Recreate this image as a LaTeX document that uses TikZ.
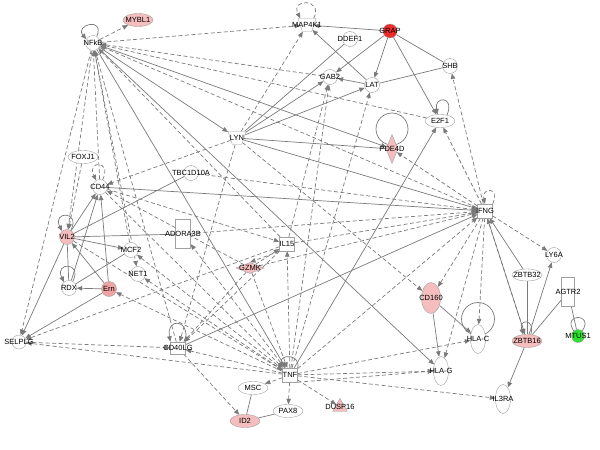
\documentclass[tikz,border=0pt]{standalone}
\usepackage{fontspec}
\setmainfont{Liberation Sans}
\usepackage{xcolor}
\definecolor{Wire}{HTML}{7A7A7A}
\definecolor{Rim}{HTML}{A0A0A0}
\definecolor{Blush}{HTML}{F5BDBD}
\definecolor{Rose}{HTML}{EFA2A2}
\definecolor{Signal}{HTML}{EE2A2A}
\definecolor{Leaf}{HTML}{2EE02E}
\usetikzlibrary{shapes.geometric,arrows.meta,backgrounds}

\begin{document}
\begin{tikzpicture}[x=1pt,y=-1pt,font=\fontsize{7.5}{8}\selectfont,
 g/.style={circle,draw=Rim,fill=white,minimum size=15pt,inner sep=0pt},
 ov/.style={ellipse,draw=Rim,fill=white,minimum width=30pt,minimum height=13pt,inner sep=0pt},
 tall/.style={ellipse,draw=Rim,fill=white,minimum width=15pt,minimum height=29pt,inner sep=0pt},
 sq/.style={rectangle,draw=Rim,fill=white,minimum width=15pt,minimum height=14pt,inner sep=0pt},
 bar/.style={rectangle,draw=Rim,fill=white,minimum width=15pt,minimum height=29pt,inner sep=0pt},
 kin/.style={trapezium,shape border rotate=180,trapezium stretches=true,trapezium left angle=65,trapezium right angle=65,draw=Rim,fill=white,minimum width=18pt,minimum height=13pt,inner sep=1pt},
 dia/.style={diamond,draw=Rim,fill=Blush,inner sep=0.5pt},
 tri/.style={regular polygon,regular polygon sides=3,draw=Rim,fill=Blush,minimum size=17pt,inner sep=0.5pt},
 act/.style={draw=Wire,line width=0.7pt,-{Triangle[length=5.5pt,width=4.5pt]}},
 bond/.style={draw=Wire,line width=0.7pt},
 ind/.style={act,dash pattern=on 4pt off 2.5pt}]
\useasboundingbox (0,0) rectangle (600,450);

% molecules
\node[g,label=center:NFkB] (NFkB) at (93,43) {};
\node[ov,fill=Blush,label=center:MYBL1] (MYBL1) at (138,20) {};
\node[kin,label=center:MAP4K1] (MAP4K1) at (307,25) {};
\node[g,label=center:DDEF1] (DDEF1) at (350,39) {};
\node[g,fill=Signal,minimum size=14pt,label=center:GRAP] (GRAP) at (390,31) {};
\node[g,label=center:SHB] (SHB) at (450,66) {};
\node[g,label=center:GAB2] (GAB2) at (330,77) {};
\node[g,label=center:LAT] (LAT) at (372,85) {};
\node[ov,label=center:E2F1] (E2F1) at (440,121) {};
\node[kin,label=center:LYN] (LYN) at (237,138) {};
\node[dia,minimum width=12pt,minimum height=29pt,label=center:PDE4D] (PDE4D) at (392,149) {};
\node[ov,label=center:FOXJ1] (FOXJ1) at (83,157) {};
\node[g,label=center:CD44] (CD44) at (100,187) {};
\node[g,label=center:TBC1D10A] (TBC1D10A) at (191,173) {};
\node[sq,label=center:IFNG] (IFNG) at (485,211) {};
\node[bar,label=center:ADORA3B] (ADORA3B) at (183,234) {};
\node[g,fill=Blush,label=center:VIL2] (VIL2) at (67,237) {};
\node[g,label=center:MCF2] (MCF2) at (131,250) {};
\node[sq,label=center:IL15] (IL15) at (287,244) {};
\node[g,label=center:LY6A] (LY6A) at (554,255) {};
\node[ov,minimum height=12pt,label=center:ZBTB32] (ZBTB32) at (527,275) {};
\node[g,label=center:NET1] (NET1) at (138,274) {};
\node[dia,minimum width=28pt,minimum height=11pt,label=center:GZMK] (GZMK) at (250,268) {};
\node[bar,minimum width=13pt,label=center:AGTR2] (AGTR2) at (568,292) {};
\node[g,label=center:RDX] (RDX) at (69,288) {};
\node[g,fill=Rose,label=center:Ern] (Ern) at (109,289) {};
\node[tall,fill=Blush,minimum width=19pt,minimum height=31pt,label=center:CD160] (CD160) at (431,298) {};
\node[g,minimum size=14pt,label=center:SELPLG] (SELPLG) at (19,342) {};
\node[sq,minimum height=12pt,label=center:CD40LG] (CD40LG) at (178,348) {};
\node[tall,label=center:HLA-C] (HLAC) at (478,339) {};
\node[ov,fill=Blush,label=center:ZBTB16] (ZBTB16) at (527,341) {};
\node[g,fill=Leaf,minimum size=13pt,label=center:MTUS1] (MTUS1) at (578,336) {};
\node[tall,label=center:HLA-G] (HLAG) at (441,371) {};
\node[sq,label=center:TNF] (TNF) at (290,375) {};
\node[ov,label=center:MSC] (MSC) at (253,388) {};
\node[tri,label=center:DUSP16] (DUSP16) at (340,407) {};
\node[ov,label=center:PAX8] (PAX8) at (288,411) {};
\node[ov,fill=Blush,label=center:ID2] (ID2) at (245,421) {};
\node[tall,label=center:IL3RA] (IL3RA) at (503,399) {};

\begin{pgfonlayer}{background}
% direct links
\foreach \src/\dst in {GRAP/MAP4K1, LAT/MAP4K1, GRAP/GAB2, GRAP/LAT, GRAP/E2F1,
  LAT/GAB2, LYN/GAB2, LYN/LAT, TNF/E2F1, NFkB/LYN, NFkB/PDE4D, NFkB/TNF,
  NFkB/HLAG, Ern/VIL2, Ern/RDX, Ern/CD44, RDX/CD44, VIL2/CD44, VIL2/MCF2,
  ZBTB16/LY6A, ZBTB16/IL3RA, CD160/HLAC, CD160/HLAG, CD44/IFNG, LYN/IFNG,
  CD40LG/IFNG, VIL2/SELPLG, Ern/SELPLG, ZBTB32/IFNG, ZBTB16/IFNG}
  \draw[act] (\src) -- (\dst);
\foreach \src/\dst in {GRAP/SHB, LAT/SHB, DDEF1/LYN, RDX/VIL2, RDX/MCF2,
  VIL2/ADORA3B, ZBTB32/ZBTB16, AGTR2/ZBTB16, AGTR2/MTUS1, MSC/ID2,
  ID2/PAX8, LYN/PDE4D, TBC1D10A/VIL2}
  \draw[bond] (\src) -- (\dst);
% indirect links
\foreach \src/\dst in {NFkB/MYBL1, NFkB/MAP4K1, GAB2/NFkB, E2F1/NFkB,
  NFkB/SELPLG, NFkB/VIL2, CD44/NFkB, MCF2/NFkB, CD40LG/NFkB, IL15/NFkB,
  NFkB/NET1, IFNG/NFkB, LYN/MAP4K1, LYN/CD44, LYN/CD40LG, LYN/CD160,
  IL15/GAB2, TNF/GAB2, TNF/LAT, IFNG/SHB, IFNG/E2F1, IFNG/LY6A,
  IFNG/ZBTB16, IFNG/HLAC, IFNG/HLAG, IFNG/CD160, IFNG/PDE4D,
  TBC1D10A/IFNG, ADORA3B/IFNG, IL15/IFNG, GZMK/IFNG, TNF/IFNG,
  TNF/MSC, TNF/PAX8, TNF/DUSP16, CD40LG/ID2, TNF/IL3RA, TNF/HLAG,
  TNF/HLAC, TNF/IL15, TNF/CD40LG, TNF/SELPLG, TNF/ADORA3B, TNF/MCF2,
  TNF/NET1, TNF/Ern, CD44/TNF, VIL2/TNF, GZMK/TNF, IL15/SELPLG,
  SELPLG/CD40LG, CD44/IL15, GZMK/IL15, IL15/CD40LG, GZMK/CD40LG,
  GZMK/CD44, FOXJ1/VIL2}
  \draw[ind] (\src) -- (\dst);
\draw[ind] (IL15.south west) -- (GZMK.north);
\draw[ind] (TNF.south east) -- (HLAG.west);
% self loops
\draw[act] (NFkB.60) .. controls +(8,-20) and +(-12,-14) .. (NFkB.150);
\draw[ind] (MAP4K1.north east) .. controls +(10,-20) and +(-10,-20) .. (MAP4K1.north west);
\draw[act] (E2F1.40) .. controls +(8,-20) and +(-4,-18) .. (E2F1.110);
\draw[bond] (392,129) circle[radius=16];
\draw[ind] (CD44.70) .. controls +(10,-20) and +(-10,-20) .. (CD44.120);
\draw[act] (VIL2.60) .. controls +(10,-20) and +(-10,-20) .. (VIL2.130);
\draw[act] (RDX.60) .. controls +(10,-20) and +(-10,-20) .. (RDX.130);
\draw[ind] (IFNG.north east) .. controls +(8,-18) and +(-4,-16) .. (IFNG.north);
\draw[act] (CD40LG.north east) .. controls +(4,-24) and +(-4,-24) .. (CD40LG.north west);
\draw[act] (TNF.north east) .. controls +(3,-14) and +(-3,-14) .. (TNF.north west);
\draw[bond] (478,319) circle[radius=16.5];
\draw[act] (ZBTB16.60) .. controls +(5,-16) and +(-5,-16) .. (ZBTB16.120);
\draw[bond] (MTUS1.50) .. controls +(12,-18) and +(-12,-18) .. (MTUS1.130);
\end{pgfonlayer}
\end{tikzpicture}
\end{document}
